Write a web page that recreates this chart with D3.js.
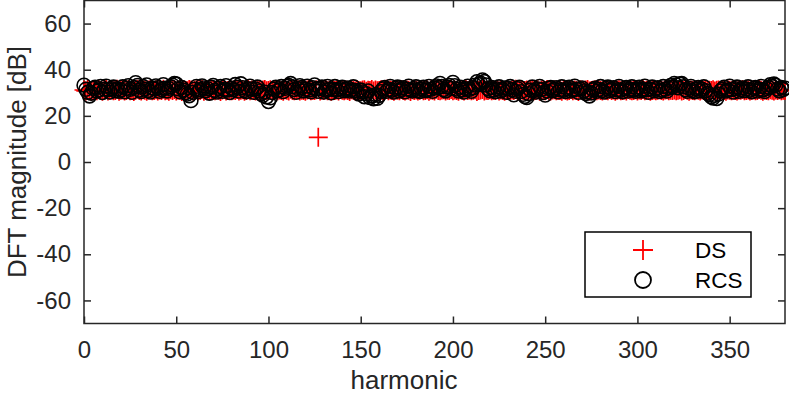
<!DOCTYPE html>
<html>
<head>
<meta charset="utf-8">
<script src="https://cdn.jsdelivr.net/npm/d3@7"></script>
<style>
  body { margin: 0; background: #fff; }
  svg { display: block; }
  text { font-family: "Liberation Sans", Arial, sans-serif; fill: #262626; }
</style>
</head>
<body>
<svg id="chart" width="789" height="395"></svg>
<script>
// RCS magnitude per harmonic (0..380)
const rcs = [
  33.3, 31.5, 30.2, 28.6, 29.8, 31.9, 32.4, 30.7, 31.2, 32.8, 30.1, 31.6, 32.9, 31.4, 30.3, 31.8, 32.5, 30.9, 31.7, 30.6,
  31.2, 32.6, 30.4, 31.9, 33.1, 31.5, 30.2, 32.3, 34.4, 33.2, 31.1, 30.5, 32.7, 31.6, 33.4, 31.0, 30.3, 32.1, 31.8, 33.0,
  32.2, 30.6, 31.4, 33.5, 32.0, 30.8, 31.9, 32.6, 33.3, 34.1, 33.8, 31.7, 30.4, 32.3, 31.1, 30.0, 29.4, 28.7, 26.6, 30.2,
  31.6, 32.8, 30.5, 31.3, 33.0, 32.1, 30.9, 31.8, 29.8, 32.4, 33.2, 31.0, 30.3, 31.9, 32.7, 30.6, 31.4, 33.1, 31.2, 30.1,
  32.0, 31.3, 33.6, 32.4, 30.7, 33.9, 32.2, 31.0, 30.4, 31.8, 32.9, 31.5, 30.2, 31.7, 32.5, 30.8, 29.6, 28.9, 30.3, 28.2,
  26.2, 27.8, 30.1, 31.6, 32.4, 30.9, 31.3, 32.7, 30.5, 31.9, 32.8, 33.2, 34.0, 32.6, 31.4, 30.2, 31.8, 33.1, 32.3, 30.8,
  31.5, 32.9, 31.2, 30.4, 32.2, 33.4, 31.7, 30.6, 31.9, 32.5, 30.3, 31.1, 32.8, 31.6, 30.0, 31.4, 32.7, 31.3, 30.5, 31.8,
  32.4, 30.9, 31.6, 32.1, 30.7, 31.3, 32.6, 31.0, 30.2, 29.5, 31.2, 30.4, 28.3, 29.6, 30.8, 27.9, 28.6, 27.4, 29.2, 27.6,
  28.8, 30.5, 31.7, 32.3, 30.6, 31.4, 32.8, 31.1, 30.3, 31.9, 32.5, 30.8, 31.5, 32.2, 30.4, 31.6, 32.9, 31.2, 30.7, 31.8,
  32.6, 31.0, 30.5, 31.7, 32.4, 30.9, 31.3, 32.8, 31.5, 30.6, 32.1, 33.0, 32.3, 34.1, 32.7, 31.4, 30.8, 32.5, 33.2, 31.9,
  34.5, 33.1, 31.6, 30.7, 32.4, 31.2, 30.3, 31.8, 32.9, 31.5, 30.6, 32.2, 33.3, 34.8, 33.6, 34.2, 35.6, 34.9, 33.4, 31.8,
  30.9, 32.3, 31.1, 30.4, 31.7, 32.6, 30.8, 31.5, 32.1, 30.2, 31.9, 32.7, 31.3, 29.1, 30.6, 31.8, 32.4, 30.5, 29.3, 28.4,
  27.9, 29.6, 31.2, 32.5, 31.0, 30.3, 31.7, 32.8, 31.4, 30.1, 29.0, 30.7, 31.9, 32.3, 30.9, 31.6, 32.2, 30.4, 31.3, 32.6,
  31.1, 30.5, 31.8, 32.4, 30.7, 31.2, 32.9, 31.5, 30.2, 31.7, 32.1, 30.8, 29.7, 30.4, 28.6, 29.9, 31.3, 32.0, 30.6, 31.4,
  32.7, 31.0, 30.3, 31.9, 32.5, 30.9, 31.6, 32.2, 30.5, 31.3, 32.8, 31.1, 30.4, 31.8, 32.3, 30.7, 31.5, 32.6, 31.2, 30.6,
  31.7, 32.4, 30.8, 31.4, 32.9, 31.3, 30.2, 31.6, 32.5, 30.9, 31.8, 32.2, 30.5, 31.1, 32.7, 31.5, 30.7, 32.0, 33.2, 32.5,
  34.1, 33.4, 32.2, 33.8, 34.0, 32.6, 31.3, 30.6, 31.9, 32.8, 31.0, 30.4, 31.7, 32.3, 30.8, 31.5, 32.6, 30.9, 29.8, 29.2,
  28.3, 27.7, 28.9, 27.5, 29.4, 30.8, 31.6, 32.4, 30.7, 31.2, 32.9, 31.4, 30.3, 31.8, 32.5, 30.6, 31.3, 32.1, 30.9, 31.7,
  32.6, 31.1, 30.4, 31.9, 32.3, 30.7, 31.5, 32.8, 31.2, 30.5, 31.8, 32.4, 33.5, 32.7, 33.8, 33.2, 31.6, 30.8, 32.3, 31.4,
  32.0
];

// DS magnitude per harmonic (0..380)
const ds = [
  31.2, 30.8, 31.4, 31.0, 30.6, 31.3, 31.1, 30.9, 31.5, 31.0, 30.7, 31.2, 31.4, 30.8, 31.1, 31.3, 30.9, 31.0, 31.5, 30.7,
  31.1, 31.3, 30.8, 31.0, 31.4, 30.9, 31.2, 30.6, 31.1, 31.5, 31.0, 30.8, 31.3, 31.1, 30.7, 31.2, 31.4, 30.9, 31.0, 31.3,
  30.8, 31.2, 31.0, 31.5, 30.9, 31.1, 30.7, 31.3, 31.0, 31.4, 30.8, 31.2, 31.1, 30.6, 31.3, 31.0, 30.9, 31.4, 31.2, 30.8,
  31.1, 31.3, 30.9, 31.0, 31.5, 30.7, 31.2, 31.1, 30.8, 31.4, 31.0, 30.9, 31.3, 31.1, 30.6, 31.2, 31.4, 30.8, 31.0, 31.3,
  30.9, 31.2, 31.0, 31.4, 30.8, 31.1, 31.3, 30.7, 31.0, 31.5, 30.9, 31.2, 31.1, 30.8, 31.3, 31.0, 30.6, 31.2, 31.4, 30.9,
  31.0, 31.3, 30.8, 31.1, 31.4, 30.9, 31.2, 31.0, 30.7, 31.3, 31.1, 30.8, 31.5, 31.0, 30.9, 31.2, 31.3, 30.8, 31.1, 31.0,
  30.7, 31.2, 31.4, 30.9, 31.1, 31.0, 31.3, 10.7, 30.8, 31.2, 31.0, 31.4, 30.9, 31.1, 30.7, 31.3, 31.0, 31.2, 30.8, 31.4,
  31.1, 30.9, 31.2, 31.0, 30.6, 31.3, 31.1, 30.8, 31.4, 31.0, 30.9, 31.2, 31.3, 30.7, 31.1, 31.0, 31.4, 30.8, 31.2, 30.9,
  31.0, 31.3, 30.8, 31.1, 31.5, 30.9, 31.2, 31.0, 30.7, 31.3, 31.1, 30.9, 31.4, 31.0, 30.8, 31.2, 31.1, 30.6, 31.3, 31.0,
  31.2, 30.8, 31.1, 31.4, 30.9, 31.0, 31.3, 30.7, 31.2, 31.1, 30.8, 31.5, 31.0, 30.9, 31.2, 31.3, 30.8, 31.1, 31.0, 31.4,
  30.9, 31.2, 31.0, 30.7, 31.3, 31.1, 30.8, 31.4, 31.0, 31.2, 30.9, 31.1, 31.3, 30.6, 31.0, 31.2, 31.4, 30.8, 31.1, 31.0,
  31.3, 30.9, 31.1, 31.0, 31.4, 30.8, 31.2, 31.0, 30.7, 31.3, 31.1, 30.9, 31.2, 31.0, 31.5, 30.8, 31.1, 31.3, 30.9, 31.0,
  31.2, 30.8, 31.1, 31.4, 30.9, 31.0, 31.3, 30.7, 31.2, 31.1, 30.9, 31.4, 31.0, 30.8, 31.2, 31.3, 30.9, 31.1, 31.0, 30.7,
  31.3, 31.1, 30.8, 31.0, 31.4, 30.9, 31.2, 31.0, 30.6, 31.3, 31.1, 30.9, 31.2, 31.4, 30.8, 31.0, 31.1, 31.3, 30.9, 31.2,
  31.0, 30.8, 31.3, 31.1, 30.9, 31.4, 31.0, 31.2, 30.7, 31.1, 31.3, 30.9, 31.0, 31.2, 30.8, 31.4, 31.1, 30.9, 31.0, 31.3,
  30.8, 31.2, 31.0, 31.4, 30.9, 31.1, 31.3, 30.7, 31.0, 31.2, 30.9, 31.1, 31.4, 31.0, 30.8, 31.2, 31.3, 30.9, 31.1, 31.0,
  31.2, 30.9, 31.1, 31.3, 30.8, 31.0, 31.4, 31.1, 30.7, 31.2, 31.0, 30.9, 31.3, 31.1, 30.8, 31.2, 31.0, 31.4, 30.9, 31.1,
  31.0, 31.3, 30.8, 31.1, 31.2, 30.9, 31.4, 31.0, 30.7, 31.2, 31.1, 30.9, 31.3, 31.0, 30.8, 31.2, 31.1, 31.4, 30.9, 31.0,
  31.2, 30.8, 31.1, 31.3, 30.9, 31.0, 31.4, 31.1, 30.7, 31.2, 31.0, 30.9, 31.3, 31.1, 30.8, 31.2, 31.0, 31.3, 30.9, 31.1,
  31.0
];

const xTicks = [0, 50, 100, 150, 200, 250, 300, 350];
const yTicks = [-60, -40, -20, 0, 20, 40, 60];
const seriesNames = ["DS", "RCS"];

const svg = d3.select("#chart");
const mLeft = 84, mRight = 785, mTop = 0.5, mBottom = 323.5;
const ink = "#262626";
const tickFont = 24, labelFont = 26, legendFont = 22.5;

let x = d3.scaleLinear().domain([0, 380]).range([mLeft, mRight]);
let y = d3.scaleLinear().domain([-70, 70]).range([mBottom, mTop]);

// axes (MATLAB style: inward ticks on all four sides)
let gx = svg.append("g").attr("transform", `translate(0,${mBottom})`)
  .call(d3.axisBottom(x).tickValues(xTicks).tickSizeInner(-7).tickSizeOuter(0).tickPadding(17));
let gxt = svg.append("g").attr("transform", `translate(0,${mTop})`)
  .call(d3.axisTop(x).tickValues(xTicks).tickSizeInner(-7).tickSizeOuter(0).tickFormat(""));
let gy = svg.append("g").attr("transform", `translate(${mLeft},0)`)
  .call(d3.axisLeft(y).tickValues(yTicks).tickSizeInner(-7).tickSizeOuter(0).tickPadding(13)
    .tickFormat(d => d < 0 ? "-" + Math.abs(d) : d));
let gyr = svg.append("g").attr("transform", `translate(${mRight},0)`)
  .call(d3.axisRight(y).tickValues(yTicks).tickSizeInner(-7).tickSizeOuter(0).tickFormat(""));

[gx, gxt, gy, gyr].forEach(g => {
  g.select(".domain").remove();
  g.selectAll(".tick line").attr("stroke", ink).attr("stroke-width", 1.5);
  g.selectAll("text").attr("font-size", tickFont).attr("fill", ink)
    .attr("font-family", '"Liberation Sans", Arial, sans-serif');
});

svg.append("rect")
  .attr("x", mLeft).attr("y", mTop)
  .attr("width", mRight - mLeft).attr("height", mBottom - mTop)
  .attr("fill", "none").attr("stroke", ink).attr("stroke-width", 1.5);

// axis labels
svg.append("text")
  .attr("x", 404).attr("y", 388.5)
  .attr("text-anchor", "middle").attr("font-size", labelFont)
  .text("harmonic");
svg.append("text")
  .attr("transform", `translate(26,${(mTop + mBottom) / 2}) rotate(-90)`)
  .attr("text-anchor", "middle").attr("font-size", labelFont)
  .text("DFT magnitude [dB]");

// markers
function plusPath(s) {
  return `M${-s},0H${s}M0,${-s}V${s}`;
}

let dsMarks = svg.append("g").selectAll("path")
  .data(ds)
  .join("path")
  .attr("transform", (d, i) => `translate(${x(i)},${y(d)})`)
  .attr("d", plusPath(9.5))
  .attr("stroke", "#ff0000")
  .attr("stroke-width", 1.7)
  .attr("fill", "none");

let rcsMarks = svg.append("g").selectAll("circle")
  .data(rcs)
  .join("circle")
  .attr("cx", (d, i) => x(i))
  .attr("cy", d => y(d))
  .attr("r", 6.9)
  .attr("stroke", "#000")
  .attr("stroke-width", 1.6)
  .attr("fill", "none");

// legend
let lg = svg.append("g").attr("transform", "translate(585,232)");
lg.append("rect")
  .attr("width", 166).attr("height", 65)
  .attr("fill", "#fff").attr("stroke", "#000").attr("stroke-width", 1.5);
lg.append("path")
  .attr("d", plusPath(10)).attr("transform", "translate(58,18)")
  .attr("stroke", "#ff0000").attr("stroke-width", 1.8).attr("fill", "none");
lg.append("circle")
  .attr("cx", 58).attr("cy", 48).attr("r", 8)
  .attr("stroke", "#000").attr("stroke-width", 1.8).attr("fill", "none");
lg.selectAll("text.lab")
  .data(seriesNames)
  .join("text")
  .attr("class", "lab")
  .attr("x", 110).attr("y", (d, i) => 26 + i * 30)
  .attr("font-size", legendFont)
  .style("fill", "#000")
  .text(d => d);
</script>
</body>
</html>
